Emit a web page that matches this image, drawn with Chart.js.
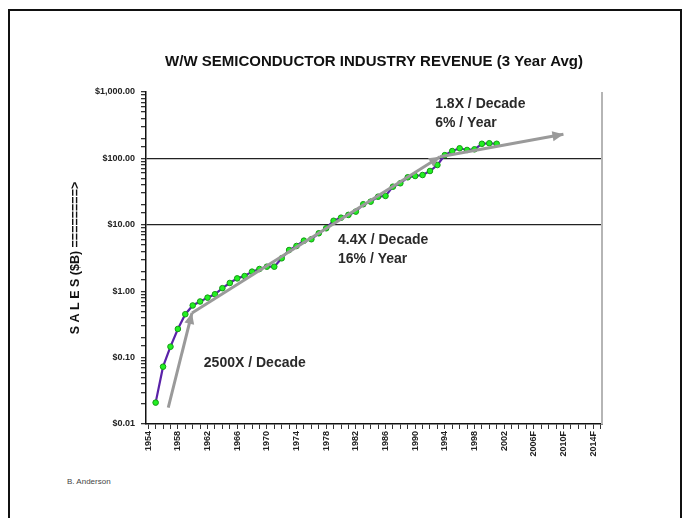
<!DOCTYPE html>
<html><head><meta charset="utf-8">
<script src="https://cdn.jsdelivr.net/npm/chart.js@4"></script>
<style>
html,body{margin:0;padding:0;background:#fff;}
#wrap{position:relative;width:685px;height:518px;overflow:hidden;background:#fff;}
#frame{position:absolute;left:8px;top:9px;width:674px;height:540px;border:2px solid #111;box-sizing:border-box;}
#credit{position:absolute;left:67px;top:477px;font:8px "Liberation Sans",Arial,sans-serif;color:#444;}
#box{position:absolute;left:0;top:0;width:685px;height:518px;}
</style></head>
<body><div id="wrap"><div id="frame"></div><div id="credit">B. Anderson</div><div id="box"><canvas id="c"></canvas></div></div>
<script>
// ---- data ----
const years = [1955,1956,1957,1958,1959,1960,1961,1962,1963,1964,1965,1966,1967,1968,1969,1970,1971,1972,1973,1974,1975,1976,1977,1978,1979,1980,1981,1982,1983,1984,1985,1986,1987,1988,1989,1990,1991,1992,1993,1994,1995,1996,1997,1998,1999,2000,2001];
const revenue = [0.021,0.073,0.146,0.27,0.45,0.61,0.70,0.80,0.90,1.11,1.33,1.56,1.69,1.97,2.16,2.34,2.34,3.13,4.17,4.8,5.77,6.06,7.45,8.86,11.5,12.8,14.1,15.8,20.4,22.3,26.5,27.2,37.5,42.2,51.9,54.3,56.2,64.6,79.5,112,129,142,134,137,166,169,166];
const trend1Years = [1956.7, 1959.9];
const trend1Values = [0.0176, 0.47];
const trend2Years = [1959.9, 1993.35];
const trend2Values = [0.47, 106];
const trend3Years = [1993.35, 2010];
const trend3Values = [106, 231];
const yLabelValues = [0.01, 0.1, 1, 10, 100, 1000];
const xLabelYears = [1954,1958,1962,1966,1970,1974,1978,1982,1986,1990,1994,1998,2002,2006,2010,2014];
const forecastFrom = 2006;
const noteTexts = [['2500X / Decade'], ['4.4X / Decade','16% / Year'], ['1.8X / Decade','6% / Year']];
const noteYears = [1961.5, 1979.6, 1992.7];
const noteValues = [0.083, 5.9, 659];
const refLineValues = [10, 100];

const FONT = '"Liberation Sans", Arial, sans-serif';
const pts = (xs, ys) => xs.map((x, i) => ({x: x, y: ys[i]}));
const isPow10 = v => Math.abs(Math.log10(v) - Math.round(Math.log10(v))) < 1e-6;
function money(v) {
  const fixed = v.toFixed(2);
  const parts = fixed.split('.');
  parts[0] = parts[0].replace(/\B(?=(\d{3})+(?!\d))/g, ',');
  return '$' + parts.join('.');
}

const trendStyle = {borderColor:'#9a9a9a', borderWidth:3, pointRadius:0, fill:false, order:0};

const arrowPlugin = {
  id: 'arrows',
  afterDatasetsDraw(chart) {
    const ctx = chart.ctx;
    [0,1,2].forEach(i => {
      const d = chart.getDatasetMeta(i).data;
      const a = d[d.length-2], b = d[d.length-1];
      const ang = Math.atan2(b.y - a.y, b.x - a.x);
      const L = 11, W = 5;
      ctx.save();
      ctx.fillStyle = '#9a9a9a';
      ctx.beginPath();
      ctx.moveTo(b.x, b.y);
      ctx.lineTo(b.x - L*Math.cos(ang) + W*Math.sin(ang), b.y - L*Math.sin(ang) - W*Math.cos(ang));
      ctx.lineTo(b.x - L*Math.cos(ang) - W*Math.sin(ang), b.y - L*Math.sin(ang) + W*Math.cos(ang));
      ctx.closePath();
      ctx.fill();
      ctx.restore();
    });
    // notes
    const xs = chart.scales.x, ys = chart.scales.y;
    ctx.save();
    ctx.font = 'bold 14px ' + FONT;
    ctx.fillStyle = '#2a2a2a';
    ctx.textAlign = 'left';
    ctx.textBaseline = 'middle';
    noteTexts.forEach((lines, i) => {
      const px = xs.getPixelForValue(noteYears[i]);
      const py = ys.getPixelForValue(noteValues[i]);
      lines.forEach((t, j) => ctx.fillText(t, px, py + j*19));
    });
    ctx.restore();
    // right border of plot area
    const ca = chart.chartArea;
    ctx.save();
    ctx.strokeStyle = '#b5b5b5';
    ctx.lineWidth = 2;
    ctx.beginPath();
    ctx.moveTo(ca.right, ca.top);
    ctx.lineTo(ca.right, ca.bottom);
    ctx.stroke();
    ctx.restore();
  }
};

new Chart(document.getElementById('c'), {
  type: 'line',
  data: {
    datasets: [
      Object.assign({data: pts(trend1Years, trend1Values)}, trendStyle),
      Object.assign({data: pts(trend2Years, trend2Values)}, trendStyle),
      Object.assign({data: pts(trend3Years, trend3Values)}, trendStyle),
      {
        data: pts(years, revenue),
        borderColor: '#5a22a8', borderWidth: 2.2,
        pointRadius: 2.8, pointBackgroundColor: '#22f022', pointBorderColor: '#159a15', pointBorderWidth: 1,
        tension: 0, order: 1
      }
    ]
  },
  options: {
    responsive: true, maintainAspectRatio: false, animation: false,
    layout: {padding: {left: 0, right: 83, top: 0, bottom: 34}},
    plugins: {
      legend: {display: false}, tooltip: {enabled: false},
      title: {display: true, fullSize: false, text: 'W/W SEMICONDUCTOR INDUSTRY REVENUE (3 Year Avg)',
        font: {family: FONT, size: 15, weight: 'bold'}, color: '#111', padding: {top: 53, bottom: 21}}
    },
    scales: {
      x: {
        type: 'linear', min: 1953.7, max: 2015.2,
        border: {display: true, color: '#111', width: 1.5},
        grid: {drawOnChartArea: false, drawTicks: true, tickLength: 5, tickColor: '#333'},
        ticks: {stepSize: 1, autoSkip: false, includeBounds: false, maxRotation: 90, minRotation: 90, padding: 2,
          font: {family: FONT, size: 9, weight: 'bold'}, color: '#222',
          callback: v => xLabelYears.includes(v) ? (v >= forecastFrom ? v + 'F' : String(v)) : ''},
        afterFit: s => { s.height = 60; }
      },
      y: {
        type: 'logarithmic', min: 0.01, max: 1000,
        border: {display: true, color: '#111', width: 1.5},
        grid: {
          drawOnChartArea: true, tickLength: 5, tickColor: '#333', lineWidth: 1.3,
          color: c => (c.tick && refLineValues.some(r => Math.abs(c.tick.value - r) < 1e-6)) ? '#222' : 'rgba(0,0,0,0)'
        },
        ticks: {autoSkip: false, padding: 6, font: {family: FONT, size: 9, weight: 'bold'}, color: '#222',
          callback: v => (isPow10(v) && yLabelValues.some(r => Math.abs(r - v) / r < 1e-6)) ? money(v) : ''},
        title: {display: true, text: 'S A L E S ($B) ========>', font: {family: FONT, size: 12.5, weight: 'bold'}, color: '#111',
          padding: {top: 68, bottom: 0}},
        afterFit: s => { s.width = 146; }
      }
    }
  },
  plugins: [arrowPlugin]
});
</script>
</body></html>
